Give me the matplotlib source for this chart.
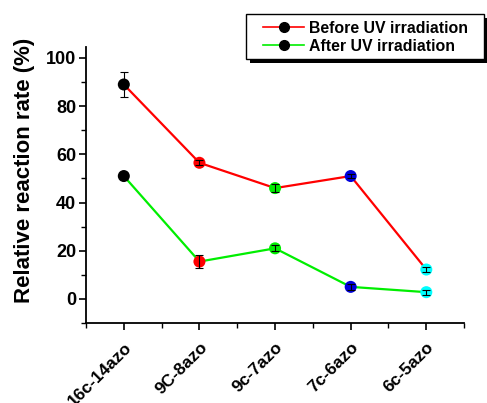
import numpy as np
import matplotlib
matplotlib.use("Agg")
from matplotlib import pyplot as plt
from matplotlib.lines import Line2D
from matplotlib.patches import Rectangle
from matplotlib.ticker import MultipleLocator, FixedLocator

plt.rcParams['font.family'] = ['Liberation Sans', 'DejaVu Sans']
plt.rcParams['font.weight'] = 'bold'

categories = ["16c-14azo", "9C-8azo", "9c-7azo", "7c-6azo", "6c-5azo"]
before = [89, 56.5, 46, 51, 12.2]
before_err = [5, 1.0, 1.8, 0.8, 1.0]
after = [51, 15.5, 21, 5, 2.8]
after_err = [0.5, 2.8, 1.2, 1.2, 1.0]
point_colors = ["black", "red", "#00ee00", "#0000dd", "cyan"]

fig = plt.figure(figsize=(4.87, 4.03), dpi=100)
ax = fig.add_axes([0.1766, 0.1985, 0.7764, 0.6845])

x = np.arange(len(categories))

# lines
ax.plot(x, before, color="red", lw=1.6, zorder=2)
ax.plot(x, after, color="#00ee00", lw=1.6, zorder=2)

# markers colored per compound
ax.scatter(x, before, c=point_colors, s=75, zorder=3, edgecolors="none")
ax.scatter(x, after, c=point_colors, s=75, zorder=3, edgecolors="none")

# error bars (drawn over the markers)
ax.errorbar(x, before, yerr=before_err, fmt="none", ecolor="black", elinewidth=0.8, capsize=3, capthick=0.8, zorder=4)
ax.errorbar(x, after, yerr=after_err, fmt="none", ecolor="black", elinewidth=0.8, capsize=3, capthick=0.8, zorder=4)

ax.set_xlim(-0.5, 4.5)
ax.set_ylim(-10, 104.5)
ax.yaxis.set_major_locator(FixedLocator([0, 20, 40, 60, 80, 100]))
ax.yaxis.set_minor_locator(MultipleLocator(10))
ax.xaxis.set_major_locator(FixedLocator(x))
ax.xaxis.set_minor_locator(FixedLocator(np.arange(-0.5, 4.6, 0.5)))
ax.set_xticklabels(categories, rotation=45, ha="right", rotation_mode="anchor",
                   fontsize=12.5, fontweight="bold")
for lab in ax.get_yticklabels():
    lab.set_fontsize(13)
    lab.set_fontweight("bold")

ax.spines["top"].set_visible(False)
ax.spines["right"].set_visible(False)
ax.spines["left"].set_linewidth(1.3)
ax.spines["bottom"].set_linewidth(1.3)
ax.tick_params(which="major", direction="out", length=5, width=1.2, pad=2)
ax.tick_params(which="minor", direction="out", length=3.5, width=1.0)
ax.tick_params(axis="x", which="major", pad=7)

ax.set_ylabel("Relative reaction rate (%)", fontsize=16, fontweight="bold")
ax.yaxis.set_label_coords(-0.134, 0.554)

# legend box with solid black drop shadow
fig.add_artist(Rectangle((0.513, 0.844), 0.489, 0.112, transform=fig.transFigure,
                         facecolor="black", edgecolor="none", zorder=5))
fig.add_artist(Rectangle((0.505, 0.854), 0.489, 0.112, transform=fig.transFigure,
                         facecolor="white", edgecolor="black", lw=1.0, zorder=6))

handles = [
    Line2D([], [], color="red", lw=1.2, marker="o", markerfacecolor="black",
           markeredgecolor="black", markersize=7),
    Line2D([], [], color="#00ee00", lw=1.2, marker="o", markerfacecolor="black",
           markeredgecolor="black", markersize=7),
]
leg = fig.legend(handles, ["Before UV irradiation", "After UV irradiation"],
                 loc="upper left", bbox_to_anchor=(0.540, 0.949),
                 frameon=False, fontsize=11.4, handlelength=2.6, handletextpad=0.3,
                 borderpad=0, labelspacing=0.2, borderaxespad=0)
leg.set_zorder(7)
for t in leg.get_texts():
    t.set_fontweight("bold")

fig.savefig("out.png", dpi=100)
